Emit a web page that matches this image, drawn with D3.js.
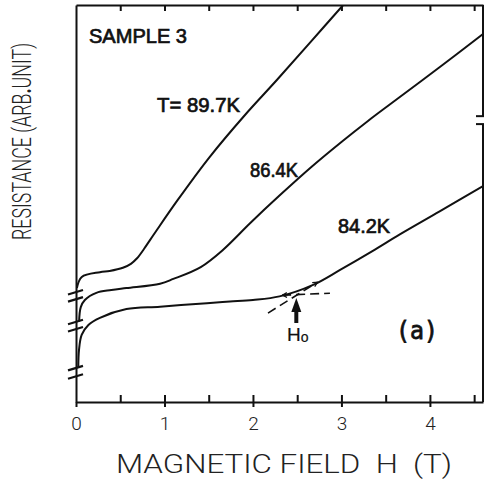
<!DOCTYPE html>
<html>
<head>
<meta charset="utf-8">
<script src="https://cdn.jsdelivr.net/npm/d3@7"></script>
<style>
body { margin: 0; background: #fff; }
.axis path, .axis line { stroke: #111; stroke-width: 2; }
.axis text { font-family: Roboto, Lato, "DejaVu Sans", sans-serif; font-weight: 300; font-size: 19px; fill: #222; }
</style>
</head>
<body>
<div id="chart"></div>
<script>
// magnetic field H (T) and resistance (arb. unit)
var h897 = [0.01, 0.065, 0.27, 0.38, 0.53, 0.62, 0.69, 0.77, 0.84, 0.91, 1.15, 1.51, 1.91, 2.27, 2.64, 3.02];
var r897 = [2.87, 3.15, 3.27, 3.30, 3.38, 3.48, 3.62, 3.86, 4.09, 4.32, 5.09, 6.17, 7.23, 8.11, 9.04, 10.0];

var h864 = [0.035, 0.054, 0.10, 0.23, 0.40, 0.57, 0.95, 1.10, 1.41, 1.66, 1.97, 2.30, 2.66, 3.00, 3.30, 3.55, 4.12, 4.60];
var r864 = [2.02, 2.39, 2.57, 2.75, 2.82, 2.87, 2.98, 3.10, 3.40, 3.83, 4.51, 5.20, 5.92, 6.55, 7.08, 7.50, 8.45, 9.27];

var h842 = [0.026, 0.034, 0.064, 0.14, 0.27, 0.57, 0.95, 1.48, 1.74, 2.00, 2.30, 2.68, 2.98, 3.35, 3.66, 4.11, 4.60];
var r842 = [0.88, 1.31, 1.69, 1.94, 2.12, 2.34, 2.40, 2.49, 2.53, 2.57, 2.66, 2.95, 3.32, 3.80, 4.22, 4.80, 5.44];

var seriesNames = ["T= 89.7K", "86.4K", "84.2K"];

// tangent construction for H0 (84.2K curve)
var tanFlatH = [2.33, 2.87], tanFlatR = [2.69, 2.74];
var tanSteepH = [2.17, 2.73], tanSteepR = [2.24, 3.02];
var h0 = 2.49, h0Arrow = [1.99, 2.62];

// axis ticks and breaks
var xMajor = [0, 1, 2, 3, 4];
var xHalf = [0.5, 1, 1.5, 2, 2.5, 3, 3.5, 4, 4.5];
var leftBreaks = [2.77, 2.59, 2.02, 1.84, 0.86, 0.65];
var rightBreak = [7.20, 7.00];

var W = 487, H = 479;
var x = d3.scaleLinear().domain([0, 4.6]).range([76, 483]);
var y = d3.scaleLinear().domain([0, 10]).range([402, 5]);

var svg = d3.select("#chart").append("svg")
  .attr("width", W).attr("height", H);

var defs = svg.append("defs");
defs.append("clipPath").attr("id", "plot")
  .append("rect").attr("x", x(0)).attr("y", y(10)).attr("width", x(4.6) - x(0)).attr("height", y(0) - y(10));
defs.append("marker").attr("id", "chev").attr("viewBox", "0 0 10 10")
  .attr("refX", 9).attr("refY", 5).attr("markerWidth", 6).attr("markerHeight", 6)
  .attr("markerUnits", "userSpaceOnUse").attr("orient", "auto-start-reverse")
  .append("path").attr("d", "M1,1 L9,5 L1,9").attr("fill", "none").attr("stroke", "#111").attr("stroke-width", 2);

// bottom axis: inward half ticks + crossing integer ticks
svg.append("g").attr("class", "axis").attr("transform", "translate(0," + y(0) + ")")
  .call(d3.axisBottom(x).tickValues(xHalf).tickSize(-7).tickSizeOuter(0).tickFormat(""));
var xb = svg.append("g").attr("class", "axis").attr("transform", "translate(0," + y(0) + ")")
  .call(d3.axisBottom(x).tickValues(xMajor).tickSize(5).tickSizeOuter(0).tickPadding(10).tickFormat(d3.format("d")));
xb.select(".domain").remove();

// top axis
svg.append("g").attr("class", "axis").attr("transform", "translate(0," + y(10) + ")")
  .call(d3.axisTop(x).tickValues(xHalf).tickSize(-6).tickSizeOuter(0).tickFormat(""));

// left axis (plain line)
svg.append("g").attr("class", "axis").attr("transform", "translate(" + x(0) + ",0)")
  .call(d3.axisLeft(y).tickValues([]).tickSizeOuter(0));

// left axis breaks
svg.selectAll(".lbreak").data(leftBreaks).enter().append("line")
  .attr("class", "lbreak")
  .attr("x1", x(0) - 8).attr("x2", x(0) + 7)
  .attr("y1", function (d) { return y(d) + 2.5; })
  .attr("y2", function (d) { return y(d) - 2; })
  .attr("stroke", "#111").attr("stroke-width", 2.2);

// right axis with a break
var rx = x(4.6);
svg.append("line").attr("x1", rx).attr("x2", rx).attr("y1", y(10)).attr("y2", y(rightBreak[0]))
  .attr("stroke", "#111").attr("stroke-width", 2);
svg.append("line").attr("x1", rx).attr("x2", rx).attr("y1", y(rightBreak[1])).attr("y2", y(0))
  .attr("stroke", "#111").attr("stroke-width", 2);
svg.selectAll(".rstub").data(rightBreak).enter().append("line")
  .attr("x1", rx - 7).attr("x2", rx + 1)
  .attr("y1", function (d) { return y(d); }).attr("y2", function (d) { return y(d); })
  .attr("stroke", "#111").attr("stroke-width", 2);

// curves
var series = [
  { name: seriesNames[0], h: h897, r: r897 },
  { name: seriesNames[1], h: h864, r: r864 },
  { name: seriesNames[2], h: h842, r: r842 }
];
var line = d3.line()
  .x(function (d) { return x(d[0]); })
  .y(function (d) { return y(d[1]); })
  .curve(d3.curveCatmullRom.alpha(0.5));

svg.append("g").attr("clip-path", "url(#plot)")
  .selectAll("path").data(series).enter().append("path")
  .attr("d", function (s) { return line(d3.zip(s.h, s.r)); })
  .attr("fill", "none").attr("stroke", "#111").attr("stroke-width", 2);

// tangents
var straight = d3.line().x(function (d) { return x(d[0]); }).y(function (d) { return y(d[1]); });
svg.append("path").attr("d", straight(d3.zip(tanFlatH, tanFlatR)))
  .attr("fill", "none").attr("stroke", "#111").attr("stroke-width", 1.6)
  .attr("stroke-dasharray", "9,5").attr("marker-start", "url(#chev)");
svg.append("path").attr("d", straight(d3.zip(tanSteepH, tanSteepR)))
  .attr("fill", "none").attr("stroke", "#111").attr("stroke-width", 1.6)
  .attr("stroke-dasharray", "9,5").attr("marker-end", "url(#chev)");

// H0 arrow
var ax = x(h0), ay0 = y(h0Arrow[0]), ay1 = y(h0Arrow[1]);
svg.append("line").attr("x1", ax).attr("x2", ax).attr("y1", ay0).attr("y2", ay1 + 10)
  .attr("stroke", "#111").attr("stroke-width", 4);
svg.append("path")
  .attr("d", "M" + ax + "," + ay1 + " L" + (ax - 5) + "," + (ay1 + 14) + " L" + (ax + 5) + "," + (ay1 + 14) + "Z")
  .attr("fill", "#111");

// labels
var lab = svg.append("g")
  .attr("font-family", "'Liberation Sans', Arial, sans-serif")
  .attr("fill", "#111").attr("stroke", "#111").attr("stroke-width", 0.7);

lab.append("text").attr("x", 89).attr("y", 43).attr("font-size", 20)
  .attr("textLength", 98).attr("lengthAdjust", "spacingAndGlyphs").text("SAMPLE 3");
lab.append("text").attr("x", 157).attr("y", 112).attr("font-size", 20)
  .attr("textLength", 83).attr("lengthAdjust", "spacingAndGlyphs").text(seriesNames[0]);
lab.append("text").attr("x", 250).attr("y", 177).attr("font-size", 20)
  .attr("textLength", 48).attr("lengthAdjust", "spacingAndGlyphs").text(seriesNames[1]);
lab.append("text").attr("x", 338).attr("y", 233).attr("font-size", 20)
  .attr("textLength", 52).attr("lengthAdjust", "spacingAndGlyphs").text(seriesNames[2]);
lab.append("text").attr("x", 396).attr("y", 339).attr("font-size", 25)
  .attr("font-family", "'DejaVu Sans Mono', monospace").attr("stroke-width", 0.8)
  .attr("textLength", 42).attr("lengthAdjust", "spacingAndGlyphs").text("(a)");
var h0t = lab.append("text").attr("x", 287).attr("y", 341).attr("font-size", 19).attr("stroke-width", 0.2);
h0t.append("tspan").text("H");
h0t.append("tspan").attr("font-size", 14).attr("dy", 1).text("o");

// axis titles
var titleFont = "Roboto, Lato, 'DejaVu Sans', sans-serif";
svg.append("text")
  .attr("x", 116).attr("y", 473)
  .attr("font-family", titleFont).attr("font-weight", 300).attr("font-size", 25).attr("fill", "#222")
  .attr("textLength", 336).attr("lengthAdjust", "spacingAndGlyphs")
  .style("white-space", "pre")
  .text("MAGNETIC FIELD  H  (T)");

var yt = svg.append("text")
  .attr("transform", "translate(31,240) rotate(-90)")
  .attr("font-family", titleFont).attr("font-weight", 300).attr("font-size", 25).attr("fill", "#222")
  .attr("textLength", 197).attr("lengthAdjust", "spacingAndGlyphs");
yt.append("tspan").text("RESISTANCE (ARB");
yt.append("tspan").attr("font-weight", "bold").text(".");
yt.append("tspan").text("UNIT)");
</script>
</body>
</html>
